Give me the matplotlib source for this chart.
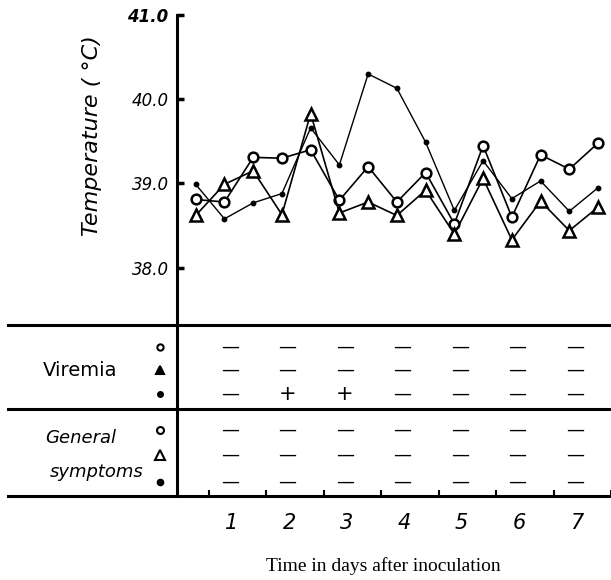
import matplotlib
matplotlib.use("Agg")
import matplotlib.pyplot as plt
from matplotlib.lines import Line2D

# ---------------- data ----------------
# sampling times (days after inoculation), twice daily
times = [0.375, 0.875, 1.375, 1.875, 2.375, 2.875, 3.375, 3.875,
         4.375, 4.875, 5.375, 5.875, 6.375, 6.875, 7.375]
temp_circle = [38.81, 38.78, 39.31, 39.30, 39.40, 38.80, 39.20, 38.78,
               39.13, 38.52, 39.45, 38.60, 39.34, 39.17, 39.48]
temp_triangle = [38.62, 38.99, 39.15, 38.63, 39.83, 38.65, 38.78, 38.62,
                 38.92, 38.40, 39.06, 38.33, 38.79, 38.44, 38.72]
temp_dot = [38.99, 38.58, 38.77, 38.88, 39.66, 39.22, 40.30, 40.13,
            39.49, 38.68, 39.27, 38.82, 39.03, 38.67, 38.95]

days = [1, 2, 3, 4, 5, 6, 7]
day_labels = ["1", "2", "3", "4", "5", "6", "7"]
ytick_vals = [38.0, 39.0, 40.0, 41.0]
ytick_labels = ["38.0", "39.0", "40.0", "41.0"]

viremia_circle = ["−"] * 7
viremia_triangle = ["−"] * 7
viremia_dot = ["−", "+", "+", "−", "−", "−", "−"]
general_circle = ["−"] * 7
general_triangle = ["−"] * 7
general_dot = ["−"] * 7

# ---------------- figure ----------------
W, H = 611, 580
fig = plt.figure(figsize=(W / 100, H / 100), dpi=100)
fig.patch.set_facecolor("white")

axis_x = 177
top_px, mid_px, l1_px, l2_px = 15, 325, 409, 496

hand = "DejaVu Sans"

ax = fig.add_axes([axis_x / W, 1 - mid_px / H, 1 - axis_x / W, (mid_px - top_px) / H])
ax.set_xlim(0.05, 7.6)
ax.set_ylim(37.32, 41.0)
for s in ["top", "right", "bottom"]:
    ax.spines[s].set_visible(False)
ax.spines["left"].set_linewidth(2.2)
ax.set_xticks([])
ax.set_yticks(ytick_vals)
ax.set_yticklabels(ytick_labels, fontsize=12, fontstyle="italic", family=hand)
ax.tick_params(axis="y", direction="in", length=5, width=2.5, pad=6)
for lab in ax.get_yticklabels():
    if lab.get_text() == "41.0":
        lab.set_fontweight("bold")

ax.plot(times, temp_dot, color="black", lw=1.0, marker="o", ms=3.2,
        mfc="black", mec="black", zorder=3)
ax.plot(times, temp_circle, color="black", lw=1.2, marker="o", ms=7,
        mfc="white", mec="black", mew=1.8, zorder=4)
ax.plot(times, temp_triangle, color="black", lw=1.2, marker="^", ms=9,
        mfc="white", mec="black", mew=1.8, zorder=5)

ax.text(-1.43, 39.57, "Temperature ( °C)", rotation=90, ha="center", va="center",
        fontsize=16, fontstyle="italic", family=hand)

# ---------------- table ----------------
ax2 = fig.add_axes([axis_x / W, 1 - l2_px / H, 1 - axis_x / W, (l2_px - mid_px) / H])
ax2.set_xlim(0.05, 7.6)
ax2.set_ylim(l2_px - mid_px, 0)
for s in ["top", "right", "bottom"]:
    ax2.spines[s].set_visible(False)
ax2.spines["left"].set_linewidth(2.2)
ax2.set_yticks([])
ax2.set_xticks(days)
ax2.set_xticklabels(day_labels, fontsize=15, fontstyle="italic", family=hand)
ax2.tick_params(axis="x", length=0, pad=12)
ax2.set_xticks([d - 0.4 for d in days] + [7.6], minor=True)
ax2.tick_params(axis="x", which="minor", direction="in", length=4, width=1.5)
ax2.set_xlabel("Time in days after inoculation", family="Liberation Serif",
               fontsize=14, labelpad=14)
ax2.xaxis.set_label_coords(0.475, -0.36)

rows = [
    (viremia_circle, 22, "o", 4.5, "white"),
    (viremia_triangle, 45, "^", 5.5, "black"),
    (viremia_dot, 69, "o", 3.5, "black"),
    (general_circle, 105, "o", 5, "white"),
    (general_triangle, 130, "^", 6.5, "white"),
    (general_dot, 157, "o", 4, "black"),
]
for vals, ypos, mk, ms, fc in rows:
    for d, v in zip(days, vals):
        if v == "+":
            ax2.text(d - 0.03, ypos, "+", ha="center", va="center", fontsize=15)
        else:
            ax2.text(d - 0.03, ypos, "—", ha="center", va="center", fontsize=13)
    ax2.plot([-0.25], [ypos], marker=mk, ms=ms, mfc=fc, mec="black", mew=1.5,
             color="black", clip_on=False, ls="none")

ax2.text(-1.63, 45, "Viremia", ha="center", va="center", fontsize=14,
         family=hand)
ax2.text(-1.63, 113, "General", ha="center", va="center", fontsize=13,
         fontstyle="italic", family=hand)
ax2.text(-1.35, 147, "symptoms", ha="center", va="center", fontsize=13,
         fontstyle="italic", family=hand)

for ypx in [mid_px, l1_px, l2_px]:
    fig.add_artist(Line2D([8 / W, 1.0], [1 - ypx / H, 1 - ypx / H],
                          transform=fig.transFigure, color="black", lw=2.2))

fig.savefig("out.png", dpi=100, facecolor="white")
